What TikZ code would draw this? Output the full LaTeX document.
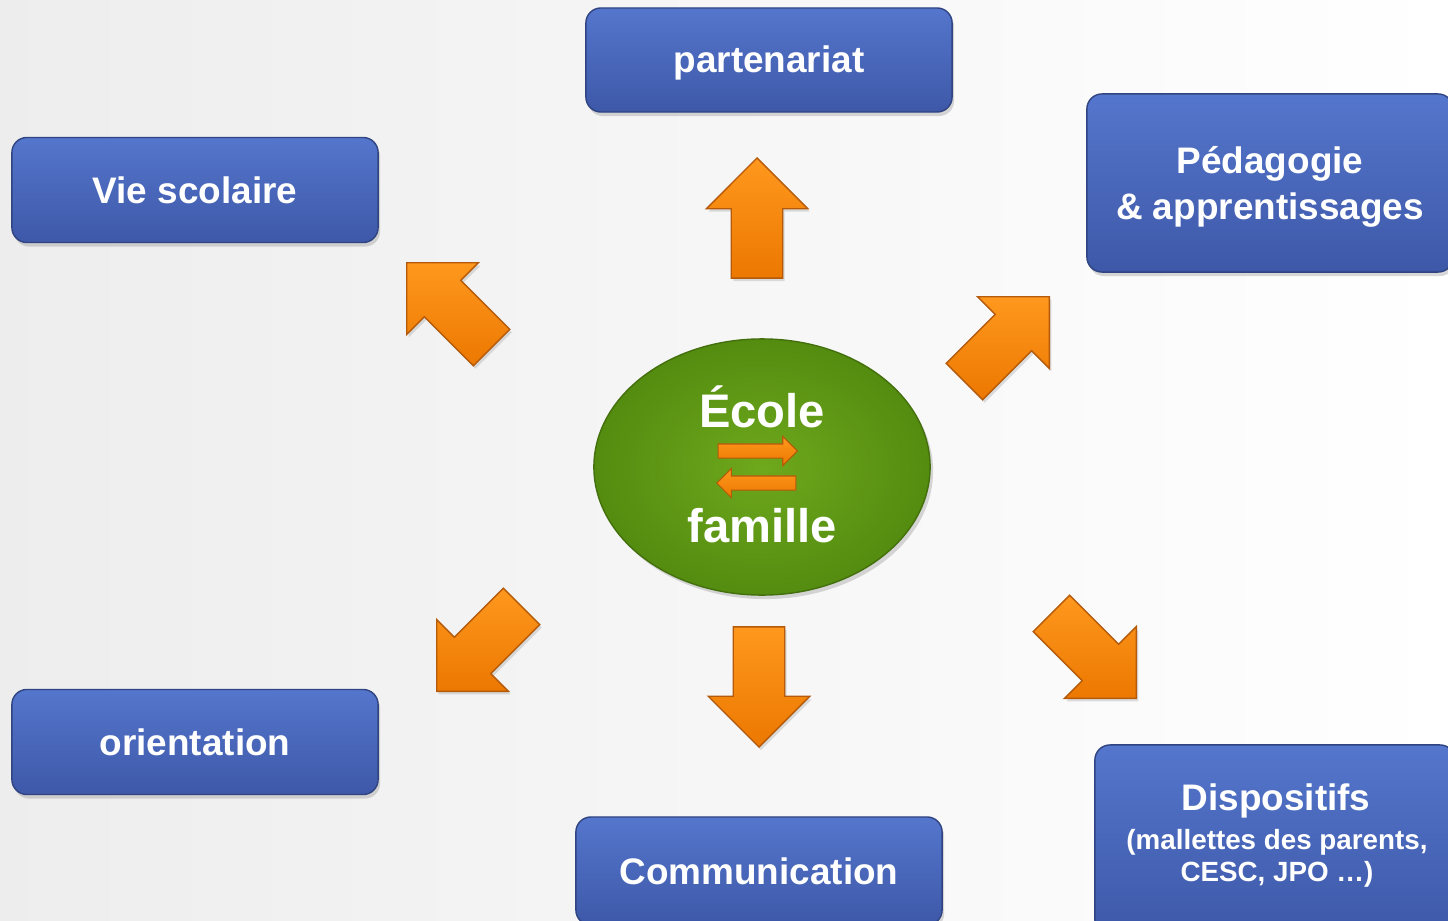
\documentclass[tikz,border=0pt]{standalone}
\usepackage{fontspec}
\setmainfont{Liberation Sans}
\usepackage{xcolor}
\usepackage{tikz}
\usetikzlibrary{shapes,arrows,positioning,shadows}

\definecolor{boxblue}{RGB}{84,118,204}
\definecolor{boxbluedark}{RGB}{62,88,168}
\definecolor{boxedge}{RGB}{48,68,130}
\definecolor{arroworange}{RGB}{236,120,0}
\definecolor{arrowlight}{RGB}{255,152,30}
\definecolor{arrowedge}{RGB}{180,90,10}
\definecolor{ovalgreen}{RGB}{110,168,28}
\definecolor{ovaldark}{RGB}{84,140,16}

\tikzset{
    theme/.style={
        rectangle,
        rounded corners=0.15cm,
        draw=boxedge,
        line width=0.4pt,
        top color=boxblue,
        bottom color=boxbluedark,
        text=white,
        align=center,
        inner sep=0pt,
        font=\bfseries\fontsize{10.5}{13}\selectfont,
        drop shadow={shadow xshift=0.02cm, shadow yshift=-0.04cm, opacity=0.3}
    },
    bigarrow/.style={
        single arrow,
        anchor=tip,
        minimum height=1.2cm,
        single arrow head extend=0.25cm,
        inner xsep=0pt,
        inner ysep=0.25cm,
        draw=arrowedge,
        line width=0.4pt,
        top color=arrowlight,
        bottom color=arroworange,
        drop shadow={shadow xshift=0.02cm, shadow yshift=-0.03cm, opacity=0.25}
    },
    smallarrow/.style={
        single arrow,
        anchor=tip,
        minimum height=0.79cm,
        single arrow head extend=0.075cm,
        inner xsep=0pt,
        inner ysep=0.065cm,
        draw=arrowedge,
        line width=0.3pt,
        top color=arrowlight,
        bottom color=arroworange
    },
    subtext/.style={font=\bfseries\fontsize{7.9}{9}\selectfont}
}

\begin{document}
\begin{tikzpicture}[x=0.01cm, y=-0.01cm]
                % background
                \useasboundingbox (0,0) rectangle (1448,921);
                \shade[
                    left color=gray!14,
                    right color=white
                ] (0,0) rectangle (1448,921);

                % boxes
                \node[theme, minimum width=3.66cm, minimum height=1.04cm] (partenariat) at (769,60) {};
                \node[text=white, anchor=base, font=\bfseries\fontsize{10.5}{13}\selectfont] (partenariattext) at (769,72) {partenariat};
                \node[theme, minimum width=3.66cm, minimum height=1.05cm] (viescolaire) at (195,190) {Vie scolaire};
                \node[theme, minimum width=3.66cm, minimum height=1.78cm] (pedagogie) at (1270,183) {};
                \node[text=white, align=center, font=\bfseries\fontsize{10.5}{13}\selectfont] (pedagogietext) at (1270,187) {P\'edagogie\\ \& apprentissages};
                \node[theme, minimum width=3.66cm, minimum height=1.05cm] (orientation) at (195,742) {orientation};
                \node[theme, minimum width=3.66cm, minimum height=1.08cm] (communication) at (759,871) {Communication};
                \node[theme, minimum width=3.60cm, minimum height=1.90cm] (dispositifs) at (1275,840) {};
                \node[text=white, align=center, font=\bfseries\fontsize{10.5}{13}\selectfont] (dispositifstext) at (1276,801) {Dispositifs};
                \node[text=white, align=center, subtext] (dispositifssub) at (1277,858) {(mallettes des parents,\\ CESC, JPO \ldots)};

                % centre
                \node[
                    ellipse,
                    minimum width=3.36cm,
                    minimum height=2.56cm,
                    draw=ovaldark!80!black,
                    line width=0.4pt,
                    inner color=ovalgreen,
                    outer color=ovaldark,
                    drop shadow={shadow xshift=0.03cm, shadow yshift=-0.04cm, opacity=0.3}
                ] (ecole) at (762,467) {};
                \node[anchor=base, text=white, font=\bfseries\fontsize{13.4}{16}\selectfont] (ecoletext) at (762,427) {\'Ecole};
                \node[anchor=base, text=white, font=\bfseries\fontsize{13.4}{16}\selectfont] (familletext) at (762,542) {famille};
                \node[smallarrow] (versfamille) at (798,451) {};
                \node[smallarrow, rotate=180] (versecole) at (716,483) {};

                % arrows
                \node[bigarrow, rotate=90] (up) at (757,157) {};
                \node[bigarrow, rotate=-90] (down) at (759,748) {};
                \node[bigarrow, rotate=135] (upleft) at (406,262) {};
                \node[bigarrow, rotate=45] (upright) at (1050,296) {};
                \node[bigarrow, rotate=-135] (downleft) at (436,692) {};
                \node[bigarrow, rotate=-45] (downright) at (1137,699) {};
\end{tikzpicture}
\end{document}
